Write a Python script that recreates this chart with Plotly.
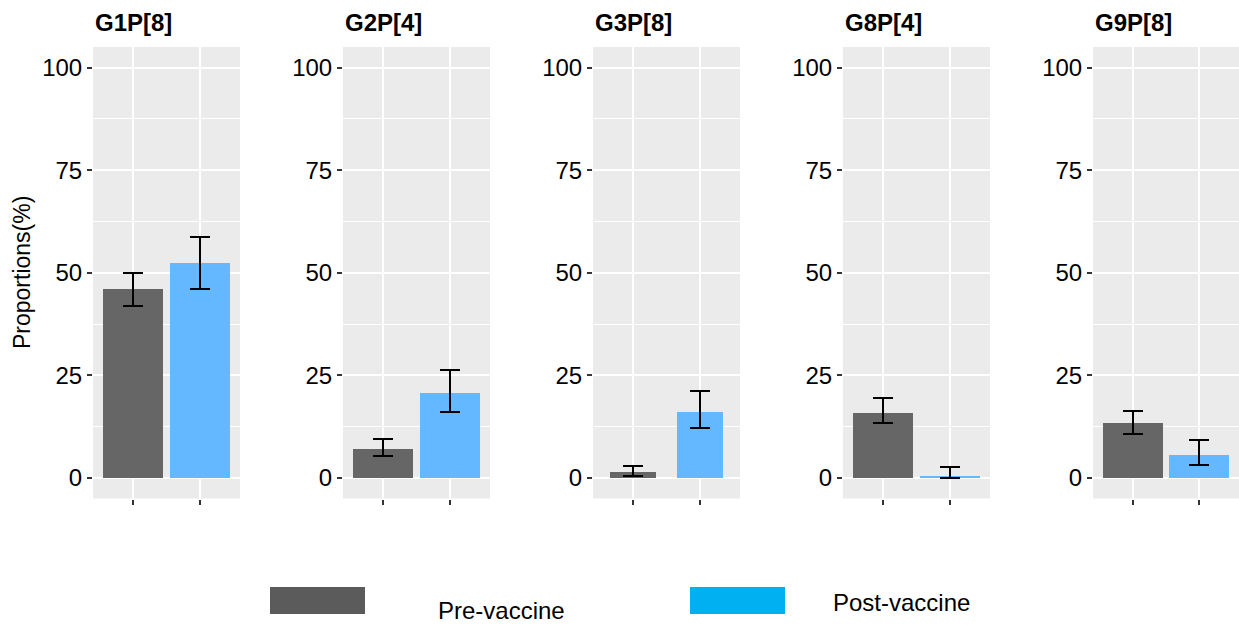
import plotly.graph_objects as go

# ---- data ----
panels = ["G1P[8]", "G2P[4]", "G3P[8]", "G8P[4]", "G9P[8]"]
groups = ["Pre-vaccine", "Post-vaccine"]
pre_vals = [46.0, 7.1, 1.5, 15.9, 13.4]
pre_lo = [42.0, 5.3, 0.6, 13.3, 10.8]
pre_hi = [50.0, 9.5, 2.9, 19.4, 16.4]
post_vals = [52.3, 20.8, 16.1, 0.3, 5.6]
post_lo = [46.0, 16.1, 12.1, 0.0, 3.2]
post_hi = [58.6, 26.3, 21.3, 2.6, 9.2]
bar_widths = [0.9, 0.9, 0.7, 0.9, 0.9]
y_ticks = [0, 25, 50, 75, 100]
y_minor = [12.5, 37.5, 62.5, 87.5]

# ---- style ----
W, H = 1239, 626
FONT = "Liberation Sans, Arial, Helvetica, sans-serif"
BAR_COLORS = ["#666666", "#63B8FF"]
LEGEND_COLORS = ["#5B5B5B", "#00B0F0"]

fig = go.Figure()
annotations = []
shapes = []

y_top_px, y_bot_px = 47, 498.5
for i, name in enumerate(panels):
    x0 = (93 + 250 * i) / W
    x1 = min(1.0, (240 + 250 * i) / W)
    xa = "x" if i == 0 else f"x{i+1}"
    ya = "y" if i == 0 else f"y{i+1}"
    vals = [pre_vals[i], post_vals[i]]
    hi = [pre_hi[i], post_hi[i]]
    lo = [pre_lo[i], post_lo[i]]
    fig.add_trace(go.Bar(
        x=groups, y=vals, xaxis=xa, yaxis=ya,
        width=bar_widths[i],
        marker=dict(color=BAR_COLORS, line=dict(width=0)),
        error_y=dict(type="data", symmetric=False,
                     array=[h - v for h, v in zip(hi, vals)],
                     arrayminus=[v - l for v, l in zip(vals, lo)],
                     color="black", thickness=2, width=10),
        showlegend=False, hoverinfo="skip",
    ))
    xkey = "xaxis" if i == 0 else f"xaxis{i+1}"
    ykey = "yaxis" if i == 0 else f"yaxis{i+1}"
    fig.update_layout(**{
        xkey: dict(domain=[x0, x1], anchor=ya, type="category",
                   range=[-0.6, 1.6], showgrid=True, gridcolor="white",
                   gridwidth=2, ticks="outside", ticklen=5, tickwidth=2,
                   tickcolor="#333333", showticklabels=False,
                   zeroline=False, showline=False, fixedrange=True),
        ykey: dict(domain=[1 - y_bot_px / H, 1 - y_top_px / H], anchor=xa,
                   range=[-5, 105], tickvals=y_ticks,
                   ticktext=[str(t) for t in y_ticks],
                   showgrid=True, gridcolor="white", gridwidth=2,
                   minor=dict(tickvals=y_minor, showgrid=True,
                              gridcolor="white", gridwidth=1, ticks=""),
                   ticks="outside", ticklen=5, tickwidth=2,
                   tickcolor="#333333",
                   tickfont=dict(family=FONT, size=24, color="black"),
                   zeroline=False, showline=False, fixedrange=True),
    })
    annotations.append(dict(
        text=f"<b>{name}</b>", x=x0, y=1 - 22 / H, xref="paper", yref="paper",
        xanchor="left", yanchor="middle", showarrow=False,
        font=dict(family=FONT, size=24, color="black")))

# y axis title
annotations.append(dict(
    text="Proportions(%)", x=22 / W, y=1 - 273 / H, xref="paper", yref="paper",
    xanchor="center", yanchor="middle", textangle=-90, showarrow=False,
    font=dict(family=FONT, size=23, color="black")))

# custom legend
legend_boxes = [(270, 365), (690, 785)]
legend_text_x = [436, 831]
legend_text_y = [610, 602]
for k, g in enumerate(groups):
    bx0, bx1 = legend_boxes[k]
    shapes.append(dict(type="rect", xref="paper", yref="paper",
                       x0=bx0 / W, x1=bx1 / W, y0=1 - 614 / H, y1=1 - 587 / H,
                       fillcolor=LEGEND_COLORS[k], line=dict(width=0)))
    annotations.append(dict(
        text=g, x=legend_text_x[k] / W, y=1 - legend_text_y[k] / H,
        xref="paper", yref="paper", xanchor="left", yanchor="middle",
        showarrow=False, font=dict(family=FONT, size=24, color="black")))

fig.update_layout(
    width=W, height=H,
    margin=dict(l=0, r=0, t=0, b=0),
    paper_bgcolor="white", plot_bgcolor="#EBEBEB",
    bargap=0, showlegend=False,
    annotations=annotations, shapes=shapes,
    font=dict(family=FONT),
)

fig.write_html("out.html")
